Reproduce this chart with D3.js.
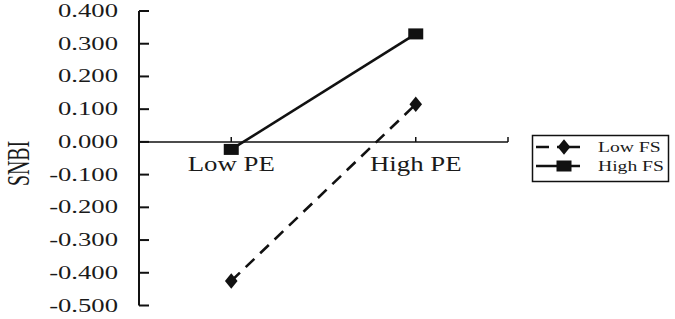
<!DOCTYPE html>
<html><head><meta charset="utf-8">
<script src="https://cdn.jsdelivr.net/npm/d3@7"></script>
<style>body{margin:0;background:#fff}svg{display:block}text{font-family:"Liberation Serif","Times New Roman",serif;fill:#1a1a1a}</style>
</head><body><svg id="c" width="675" height="319"></svg>
<script>
const categories = ["Low PE", "High PE"];
const seriesNames = ["Low FS", "High FS"];
const lowFS = [-0.425, 0.115];
const highFS = [-0.023, 0.330];
const yTicks = [0.4, 0.3, 0.2, 0.1, 0.0, -0.1, -0.2, -0.3, -0.4, -0.5];
const yLabel = "SNBI";

const svg = d3.select("#c");
const x = d3.scalePoint().domain(categories).range([139, 508]).padding(0.5);
const y = d3.scaleLinear().domain([-0.5, 0.4]).range([305.5, 11]);
const ink = "#111";

function stretchText(sel, sx, anchor) {
  sel.each(function() {
    const t = d3.select(this);
    const w = this.getComputedTextLength();
    const W = w * sx;
    const x0 = +t.attr("x");
    let nx = x0;
    if (anchor === "end") nx = x0 - W;
    else if (anchor === "middle") nx = x0 - W / 2;
    t.attr("x", nx).attr("text-anchor", "start")
     .attr("textLength", W).attr("lengthAdjust", "spacingAndGlyphs");
  });
}

// Y axis
svg.append("line").attr("x1", 139).attr("x2", 139).attr("y1", y(0.4)).attr("y2", y(-0.5))
  .attr("stroke", ink).attr("stroke-width", 2);
svg.selectAll(".yt").data(yTicks).enter().append("line")
  .attr("x1", 139).attr("x2", 149).attr("y1", d => y(d)).attr("y2", d => y(d))
  .attr("stroke", ink).attr("stroke-width", 2);
svg.selectAll(".yl").data(yTicks).enter().append("text")
  .attr("x", 118).attr("y", d => y(d) + 6).attr("font-size", 18)
  .text(d => d3.format(".3f")(d).replace("−", "-"))
  .call(stretchText, 1.48, "end");

// X axis at 0
svg.append("line").attr("x1", 139).attr("x2", 508).attr("y1", y(0)).attr("y2", y(0))
  .attr("stroke", ink).attr("stroke-width", 1.5);
const xt = categories.map(c => x(c)).concat([508]);
svg.selectAll(".xt").data(xt).enter().append("line")
  .attr("x1", d => d).attr("x2", d => d).attr("y1", y(0)).attr("y2", y(0) - 5)
  .attr("stroke", ink).attr("stroke-width", 1.5);
svg.selectAll(".xl").data(categories).enter().append("text")
  .attr("x", d => x(d)).attr("y", 171).attr("font-size", 20)
  .text(d => d).call(stretchText, 1.34, "middle");

// Y label
svg.append("text").attr("transform", "translate(29,163.5) rotate(-90)")
  .attr("x", 0).attr("y", 0).attr("font-size", 32).text(yLabel)
  .call(stretchText, 0.62, "middle");

// Lines
const line = d3.line().x((d, i) => x(categories[i])).y(d => y(d));
svg.append("path").datum(lowFS).attr("d", line).attr("fill", "none")
  .attr("stroke", ink).attr("stroke-width", 2.6).attr("stroke-dasharray", "12,8");
svg.append("path").datum(highFS).attr("d", line).attr("fill", "none")
  .attr("stroke", ink).attr("stroke-width", 2.6);

const diamond = d3.symbol().type(d3.symbolDiamond).size(70);
function drawDiamond(g, cx, cy) {
  g.append("path").attr("d", diamond()).attr("transform", `translate(${cx},${cy}) scale(1.4,1)`).attr("fill", ink);
}
function drawSquare(g, cx, cy) {
  g.append("rect").attr("x", cx - 7.5).attr("y", cy - 5.5).attr("width", 15).attr("height", 11).attr("fill", ink);
}
lowFS.forEach((v, i) => drawDiamond(svg, x(categories[i]), y(v)));
highFS.forEach((v, i) => drawSquare(svg, x(categories[i]), y(v)));

// Legend
const lg = svg.append("g");
lg.append("rect").attr("x", 532.5).attr("y", 135.5).attr("width", 136).attr("height", 46)
  .attr("fill", "#fff").attr("stroke", ink).attr("stroke-width", 1.5);
const ly = [147, 166];
seriesNames.forEach((s, i) => {
  lg.append("line").attr("x1", 536).attr("x2", 580).attr("y1", ly[i]).attr("y2", ly[i])
    .attr("stroke", ink).attr("stroke-width", 2.6)
    .attr("stroke-dasharray", i === 0 ? "13,8,23" : null);
  if (i === 0) drawDiamond(lg, 564, ly[i]); else drawSquare(lg, 564, ly[i]);
  lg.append("text").attr("x", 598).attr("y", ly[i] + 5).attr("font-size", 14).text(s)
    .call(stretchText, 1.4, "start");
});
</script></body></html>
